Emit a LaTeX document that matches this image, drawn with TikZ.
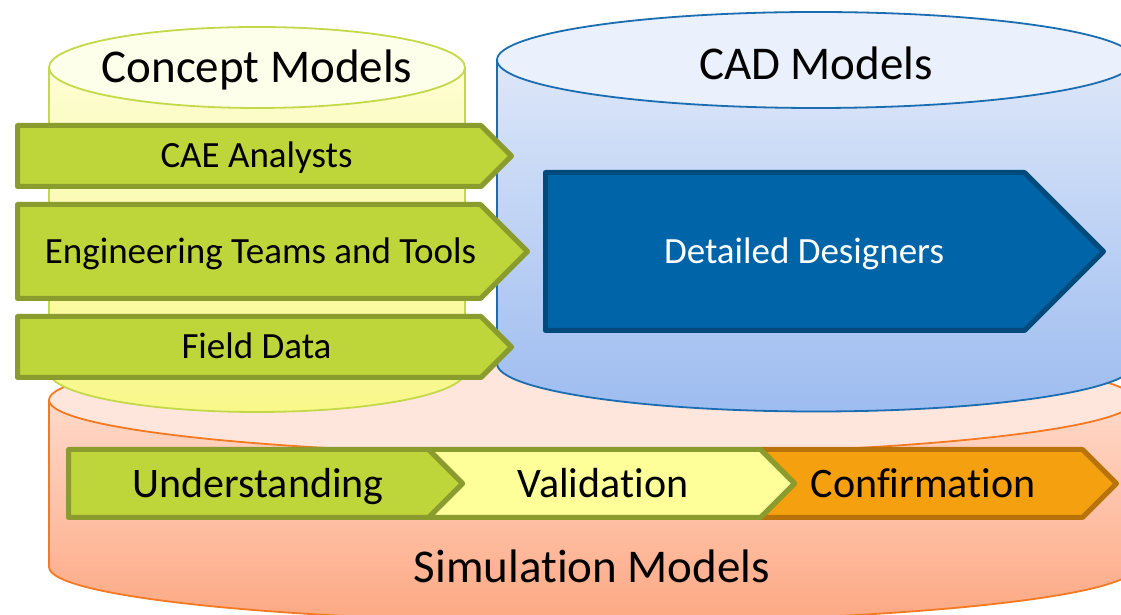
\documentclass[tikz,border=0pt]{standalone}
\usepackage{fontspec}
\setmainfont{Carlito}[Ligatures=NoCommon]

\definecolor{leaf}{HTML}{BFD63A}
\definecolor{leafedge}{HTML}{8A9C2E}
\definecolor{paleyellow}{HTML}{FFFF99}
\definecolor{ambre}{HTML}{F5A00F}
\definecolor{ambreedge}{HTML}{B8730C}
\definecolor{deepblue}{HTML}{0064A8}
\definecolor{deepblueedge}{HTML}{004A7C}
% cylinder colours
\definecolor{cTop}{HTML}{FEFFEA}
\definecolor{cSideA}{HTML}{FDFDD2}
\definecolor{cSideB}{HTML}{F8F88A}
\definecolor{cLine}{HTML}{C4D94A}
\definecolor{bTop}{HTML}{EAF0FC}
\definecolor{bSideA}{HTML}{DDE7F9}
\definecolor{bSideB}{HTML}{9DBCF0}
\definecolor{bLine}{HTML}{1A6DB0}
\definecolor{sTop}{HTML}{FFE6DC}
\definecolor{sSideA}{HTML}{FFD9C9}
\definecolor{sSideB}{HTML}{FDA883}
\definecolor{sLine}{HTML}{F47920}

% cylinder: cx, rx, top centre y, bottom centre y, ry, top fill, side top, side bottom, outline
\newcommand\mycyl[9]{%
  \shade[top color=#7, bottom color=#8]
    ({#1-#2},#3) -- ({#1-#2},#4)
    arc[start angle=180, end angle=360, x radius=#2, y radius=#5]
    -- ({#1+#2},#3) -- cycle;
  \draw[#9, line width=1.8pt]
    ({#1-#2},#3) -- ({#1-#2},#4)
    arc[start angle=180, end angle=360, x radius=#2, y radius=#5]
    -- ({#1+#2},#3);
  \draw[#9, line width=1.8pt, fill=#6] (#1,#3) ellipse[x radius=#2, y radius=#5];
}
% pentagon arrow: style, left x, body end x, tip x, top y, bottom y
\newcommand\pent[6]{%
  \draw[#1] (#2,#5) -- (#3,#5) -- (#4,{(#5+#6)/2}) -- (#3,#6) -- (#2,#6) -- cycle;
}
% chevron: style, left x, body end x, tip x, top y, bottom y, notch x
\newcommand\chev[7]{%
  \draw[#1] (#2,#5) -- (#3,#5) -- (#4,{(#5+#6)/2}) -- (#3,#6) -- (#2,#6)
    -- (#7,{(#5+#6)/2}) -- cycle;
}

\begin{document}
\begin{tikzpicture}[x=1pt, y=1pt,
  lbl/.style={inner sep=0pt, anchor=base},
  txtbig/.style={lbl, font=\fontsize{47}{50}\selectfont},
  txtmid/.style={lbl, font=\fontsize{37}{40}\selectfont},
  txtproc/.style={lbl, font=\fontsize{42}{45}\selectfont},
  arrowbase/.style={line width=5pt, line join=round},
  greenarrow/.style={arrowbase, fill=leaf, draw=leafedge},
  yellowarrow/.style={arrowbase, fill=paleyellow, draw=leafedge},
  orangearrow/.style={arrowbase, fill=ambre, draw=ambreedge},
  bluearrow/.style={arrowbase, fill=deepblue, draw=deepblueedge},
]
\clip (0,0) rectangle (1121,615);
\fill[white] (0,0) rectangle (1121,615);

% the three model stores
\mycyl{592}{543}{215}{48}{55}{sTop}{sSideA}{sSideB}{sLine}
\mycyl{257}{208}{547.5}{243.5}{40.5}{cTop}{cSideA}{cSideB}{cLine}
\mycyl{816}{319}{555}{251.5}{48}{bTop}{bSideA}{bSideB}{bLine}

% contributors feeding the concept models
\pent{greenarrow}{17.5}{481}{511.5}{489.5}{428.5}
\pent{greenarrow}{17.5}{480.5}{527.5}{410.5}{316.5}
\pent{greenarrow}{17.5}{481}{511.5}{298.5}{237.5}

% detailed design stage
\pent{bluearrow}{545.5}{1024.5}{1103.5}{442.5}{284.5}

% simulation process chain
\chev{orangearrow}{760.5}{1082.5}{1116.5}{165.5}{97.5}{794.5}
\chev{yellowarrow}{428.5}{760.5}{794.5}{165.5}{97.5}{462.5}
\pent{greenarrow}{68.5}{428.5}{462.5}{165.5}{97.5}

% labels (placed on their baselines)
\node[txtbig] (concept) at (257,532) {Concept Models};
\node[txtbig] (cad) at (816,535) {CAD Models};
\node[txtbig] (sim) at (592,32) {Simulation Models};
\node[txtmid] (cae) at (256.5,447) {CAE Analysts};
\node[txtmid] (eng) at (260.5,351.6) {Engineering Teams and Tools};
\node[txtmid] (field) at (256.5,256.1) {Field Data};
\node[txtmid, text=white] (designers) at (804,351.6) {Detailed Designers};
\node[txtproc] (understanding) at (258,117.5) {Understanding};
\node[txtproc] (validation) at (603,117.5) {Validation};
\node[txtproc] (confirmation) at (923,117.5) {Confirmation};
\end{tikzpicture}
\end{document}
